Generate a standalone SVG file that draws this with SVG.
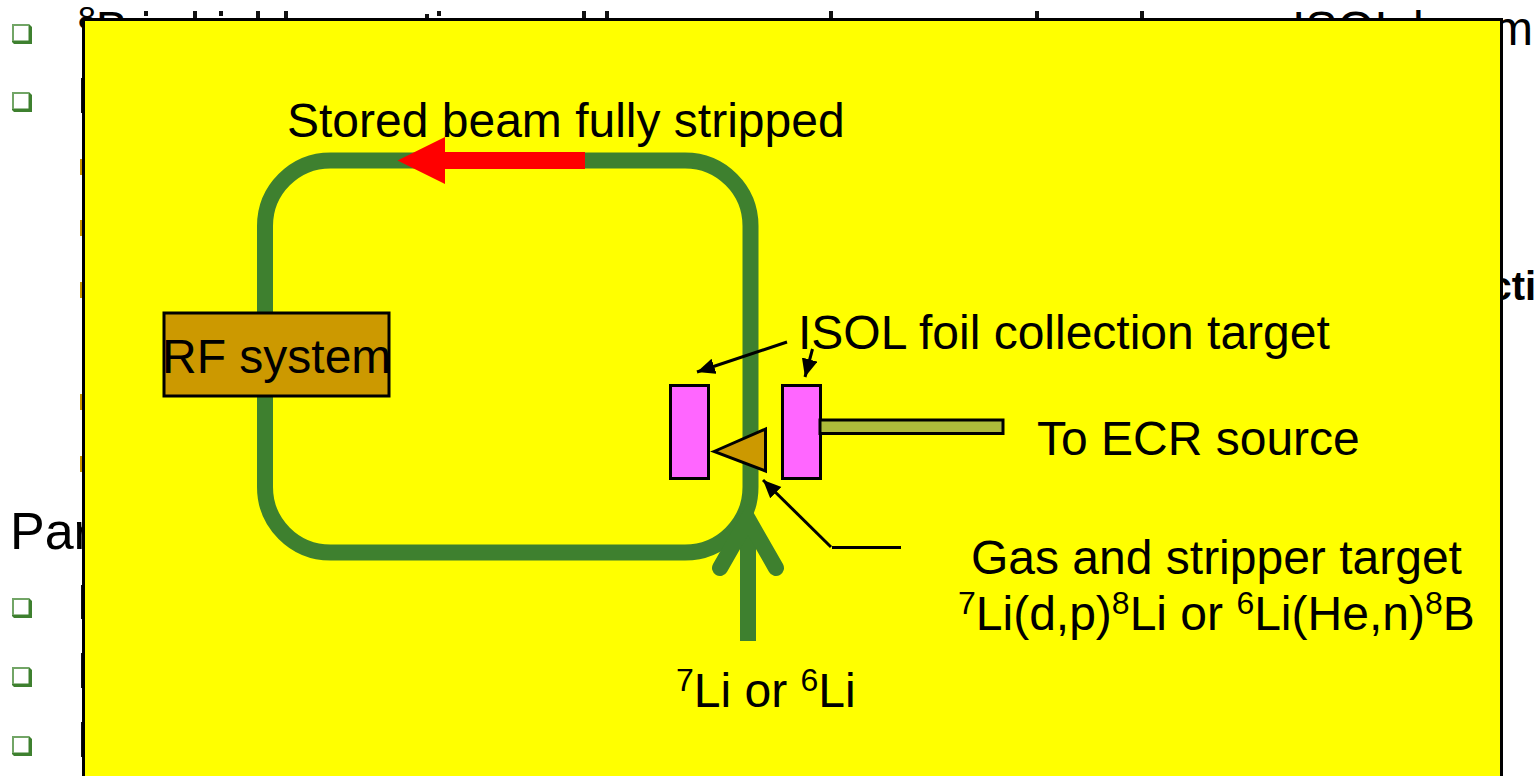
<svg xmlns="http://www.w3.org/2000/svg" width="1535" height="776" viewBox="0 0 1535 776">
<style>
text{font-family:"Liberation Sans",Arial,sans-serif;fill:#000}
.l{font-size:48px}
.o{stroke:#000;stroke-width:3}
.g{fill:none;stroke:#3E802F;stroke-width:16}
.a{stroke:#000;stroke-width:3;fill:none;marker-end:url(#ah)}
.t{fill:#CC9900}
.k{fill:#111}
</style>
<defs>
<marker id="ah" markerUnits="userSpaceOnUse" markerWidth="20" markerHeight="18" refX="18" refY="8" orient="auto"><path d="M0,0L18,8L0,16Z" fill="#000"/></marker>
<g id="bullet"><path d="M12,25q0,-1 1,-1h16l3,3v17h-18l-2,-2z" fill="#3E802F"/><path d="M12,25q0,-1 1,-1h16v2h-15v15h-2z" fill="#72A566"/><rect x="14" y="26" width="14.500" height="14.500" fill="#fff"/></g>
</defs>
<rect width="1535" height="776" fill="#fff"/>
<g id="background">
<text class="l" x="78" y="45"><tspan font-size="32" dy="-16">8</tspan><tspan dy="16">B</tspan></text>
<text class="l" x="1292" y="45">ISOL beam</text>
<text x="1489.500" y="300" font-size="40" font-weight="bold">cti</text>
<text x="10" y="549" font-size="52">Par</text>
<use href="#bullet"/><use href="#bullet" y="68"/><use href="#bullet" y="574"/><use href="#bullet" y="643"/><use href="#bullet" y="712"/>
<rect class="t" x="80" y="159" width="4" height="16"/><rect class="t" x="80" y="220" width="4" height="16"/><rect class="t" x="80" y="282" width="4" height="16"/><rect class="t" x="80" y="394" width="4" height="16"/><rect class="t" x="80" y="456" width="4" height="16"/>
<rect class="k" x="81" y="78" width="3" height="35"/><rect class="k" x="81" y="585" width="3" height="34"/><rect class="k" x="81" y="653" width="3" height="35"/><rect class="k" x="81" y="722" width="3" height="35"/>
<rect class="k" x="144" y="11" width="4" height="5"/><rect class="k" x="193" y="11" width="4" height="9"/><rect class="k" x="219" y="11" width="4" height="5"/><rect class="k" x="256" y="11" width="4" height="9"/><rect class="k" x="284" y="11" width="4" height="9"/><rect class="k" x="425" y="14" width="4" height="6"/><rect class="k" x="437" y="11" width="4" height="5"/><rect class="k" x="582" y="11" width="4" height="9"/><rect class="k" x="605" y="11" width="4" height="9"/><rect class="k" x="829" y="11" width="4" height="9"/><rect class="k" x="1035" y="11" width="4" height="9"/><rect class="k" x="1140" y="11" width="4" height="9"/>
</g>
<rect id="panel" x="83.500" y="19.500" width="1418" height="770" fill="#ff0" stroke="#000" stroke-width="3"/>
<g id="connectors">
<path class="g" d="M265,313V226a65.500,65.500 0 0 1 65.500,-65.500H685a65.500,65.500 0 0 1 65.500,65.500V487a65.500,65.500 0 0 1 -65.500,65.500H330.500a65.500,65.500 0 0 1 -65.500,-65.500V396"/>
<path class="g" d="M748,641V522"/>
<path class="g" stroke-linecap="round" stroke-linejoin="miter" d="M720,568L748,519L776,568"/>
<path d="M585,152V169H445V184L397.500,160.500L445,137V152Z" fill="#f00"/>
<path class="a" d="M787,342L697,372"/>
<path class="a" d="M812.500,349L805,377"/>
<path class="a" d="M831,547L763,480"/>
<path d="M832,547.500H901" stroke="#000" stroke-width="3"/>
</g>
<g id="rf-system"><rect class="o" x="164" y="313" width="225" height="83" fill="#CC9900"/><text class="l" x="162" y="373">RF system</text></g>
<g id="foil-left"><rect class="o" x="670.500" y="385.500" width="38" height="93" fill="#FF66FF"/></g>
<g id="foil-right"><rect class="o" x="782.500" y="385.500" width="38" height="93" fill="#FF66FF"/></g>
<g id="transfer-tube"><rect class="o" x="820" y="420" width="183" height="13.500" fill="#AEBB3A"/></g>
<g id="stripper-target"><path class="o" d="M714,451.500L765.500,429V471Z" fill="#CC9900"/></g>
<g id="labels">
<text class="l" x="287" y="137">Stored beam fully stripped</text>
<text class="l" x="798" y="349">ISOL foil collection target</text>
<text class="l" x="1037" y="455">To ECR source</text>
<text class="l" x="971" y="574">Gas and stripper target</text>
<text class="l" x="958" y="630"><tspan font-size="32" dy="-16">7</tspan><tspan dy="16">Li(d,p)</tspan><tspan font-size="32" dy="-16">8</tspan><tspan dy="16">Li or </tspan><tspan font-size="32" dy="-16">6</tspan><tspan dy="16">Li(He,n)</tspan><tspan font-size="32" dy="-16">8</tspan><tspan dy="16">B</tspan></text>
<text class="l" x="676" y="707"><tspan font-size="32" dy="-16">7</tspan><tspan dy="16">Li or </tspan><tspan font-size="32" dy="-16">6</tspan><tspan dy="16">Li</tspan></text>
</g>
</svg>
